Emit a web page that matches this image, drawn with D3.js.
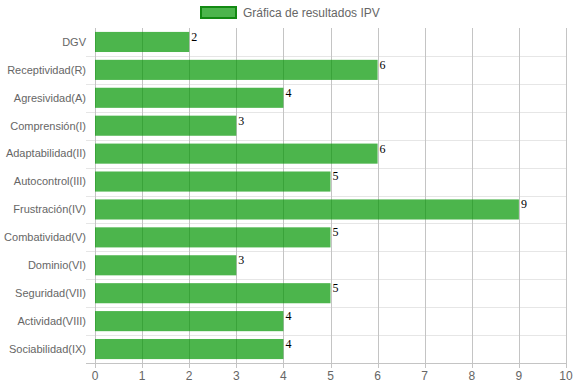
<!DOCTYPE html>
<html>
<head>
<meta charset="utf-8">
<script src="https://cdn.jsdelivr.net/npm/d3@7"></script>
<style>
  body { margin: 0; background: #fff; }
  svg { display: block; }
</style>
</head>
<body>
<div id="chart"></div>
<script>
var categories = [
    "DGV",
    "Receptividad(R)",
    "Agresividad(A)",
    "Comprensión(I)",
    "Adaptabilidad(II)",
    "Autocontrol(III)",
    "Frustración(IV)",
    "Combatividad(V)",
    "Dominio(VI)",
    "Seguridad(VII)",
    "Actividad(VIII)",
    "Sociabilidad(IX)"
];
var values = [2, 6, 4, 3, 6, 5, 9, 5, 3, 5, 4, 4];
var xTicks = [0, 1, 2, 3, 4, 5, 6, 7, 8, 9, 10];
var seriesName = "Gráfica de resultados IPV";

var chartWidth = 575, chartHeight = 387;
var plotLeft = 95, plotRight = 566, plotTop = 28, plotBottom = 363;

function main() {
    var svg = d3.select("#chart").append("svg")
        .attr("width", chartWidth)
        .attr("height", chartHeight);

    var x = d3.scaleLinear().domain([0, 10]).range([plotLeft, plotRight]);
    var y = d3.scaleBand().domain(categories).range([plotTop, plotBottom]);
    var barH = y.bandwidth() * 0.72;

    // horizontal grid lines (row boundaries)
    var bounds = categories.map(function (d) { return y(d); });
    svg.append("g")
        .selectAll("line")
        .data(bounds.slice(1))
        .enter()
        .append("line")
        .attr("x1", plotLeft - 9)
        .attr("x2", plotRight)
        .attr("y1", function (d) { return Math.round(d) + 0.5; })
        .attr("y2", function (d) { return Math.round(d) + 0.5; })
        .attr("stroke", "#e6e6e6");

    // vertical grid lines
    svg.append("g")
        .selectAll("line")
        .data(xTicks)
        .enter()
        .append("line")
        .attr("x1", function (d) { return Math.round(x(d)) + 0.5; })
        .attr("x2", function (d) { return Math.round(x(d)) + 0.5; })
        .attr("y1", plotTop)
        .attr("y2", plotBottom + 5)
        .attr("stroke", "#c4c4c4");

    // bottom axis line
    svg.append("line")
        .attr("x1", plotLeft - 9)
        .attr("x2", plotRight)
        .attr("y1", plotBottom + 0.5)
        .attr("y2", plotBottom + 0.5)
        .attr("stroke", "#c4c4c4");

    // bars
    svg.append("g")
        .selectAll("rect")
        .data(values)
        .enter()
        .append("rect")
        .attr("x", x(0))
        .attr("y", function (d, i) { return y(categories[i]) + (y.bandwidth() - barH) / 2; })
        .attr("width", function (d) { return x(d) - x(0); })
        .attr("height", barH)
        .attr("fill", "rgba(0,150,0,0.7)");

    // value labels
    svg.append("g")
        .selectAll("text")
        .data(values)
        .enter()
        .append("text")
        .attr("x", function (d) { return x(d) + 2; })
        .attr("y", function (d, i) { return y(categories[i]) + (y.bandwidth() - barH) / 2 + 9; })
        .attr("font-family", "'Liberation Serif', 'DejaVu Serif', serif")
        .attr("font-size", 12)
        .attr("fill", "#000")
        .text(function (d) { return d; });

    // category labels
    svg.append("g")
        .selectAll("text")
        .data(categories)
        .enter()
        .append("text")
        .attr("x", plotLeft - 9)
        .attr("y", function (d) { return y(d) + y.bandwidth() / 2; })
        .attr("dy", "0.35em")
        .attr("text-anchor", "end")
        .attr("font-family", "'Liberation Sans', Arial, sans-serif")
        .attr("font-size", 11)
        .attr("fill", "#666")
        .text(function (d) { return d; });

    // x tick labels
    svg.append("g")
        .selectAll("text")
        .data(xTicks)
        .enter()
        .append("text")
        .attr("x", function (d) { return x(d); })
        .attr("y", plotBottom + 17)
        .attr("text-anchor", "middle")
        .attr("font-family", "'Liberation Sans', Arial, sans-serif")
        .attr("font-size", 12)
        .attr("fill", "#666")
        .text(function (d) { return d; });

    // legend
    var legend = svg.append("g");
    legend.append("rect")
        .attr("x", 201)
        .attr("y", 7)
        .attr("width", 35)
        .attr("height", 11)
        .attr("fill", "rgba(0,150,0,0.7)")
        .attr("stroke", "#138a13")
        .attr("stroke-width", 2);
    legend.append("text")
        .attr("x", 243)
        .attr("y", 12.5)
        .attr("dy", "0.35em")
        .attr("font-family", "'Liberation Sans', Arial, sans-serif")
        .attr("font-size", 12)
        .attr("fill", "#666")
        .text(seriesName);
}

main();
</script>
</body>
</html>
